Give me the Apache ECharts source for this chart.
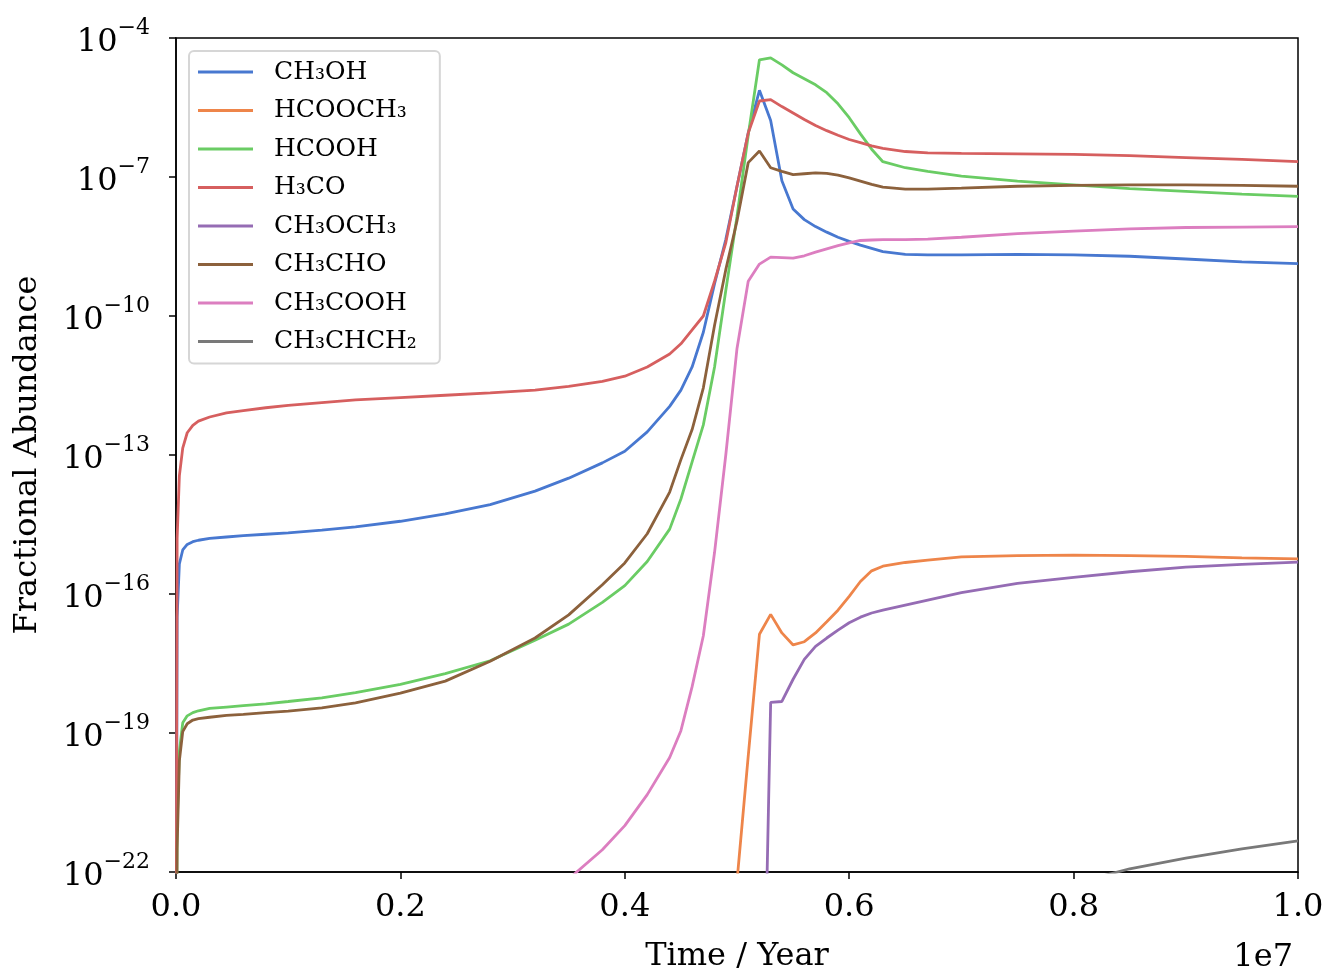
<!DOCTYPE html>
<html>
<head>
<meta charset="utf-8">
<script src="https://cdn.jsdelivr.net/npm/echarts@6/dist/echarts.min.js"></script>
<style>
  html, body { margin: 0; padding: 0; background: #fff; }
  #chart { width: 1332px; height: 978px; }
</style>
</head>
<body>
<div id="chart"></div>
<script>
// time grid (years)
const timeYears = [
  0, 1e4, 3e4, 6e4, 1e5, 1.5e5, 2e5, 3e5, 4.5e5, 6e5,
  8e5, 1e6, 1.3e6, 1.6e6, 2e6, 2.4e6, 2.8e6, 3.2e6, 3.5e6, 3.8e6,
  4e6, 4.2e6, 4.4e6, 4.5e6, 4.6e6, 4.7e6, 4.8e6, 4.9e6, 5e6, 5.1e6,
  5.2e6, 5.3e6, 5.4e6, 5.5e6, 5.6e6, 5.7e6, 5.8e6, 5.9e6, 6e6, 6.1e6,
  6.2e6, 6.3e6, 6.5e6, 6.7e6, 7e6, 7.5e6, 8e6, 8.5e6, 9e6, 9.5e6,
  1e7
]

// log10 of fractional abundance (null = not drawn)
const logCH3OH = [
  -26, -16.5, -15.35, -15.05, -14.93, -14.87, -14.84, -14.80, -14.77, -14.74,
  -14.71, -14.68, -14.62, -14.55, -14.43, -14.27, -14.07, -13.78, -13.5, -13.17,
  -12.92, -12.5, -11.95, -11.6, -11.1, -10.35, -9.3, -8.35, -7.2, -6.05,
  -5.13, -5.78, -7.08, -7.69, -7.92, -8.07, -8.19, -8.3, -8.39, -8.47,
  -8.54, -8.61, -8.67, -8.68, -8.68, -8.67, -8.68, -8.71, -8.77, -8.83,
  -8.87
]
const logHCOOCH3 = [
  null, null, null, null, null, null, null, null, null, null,
  null, null, null, null, null, null, null, null, null, null,
  null, null, null, null, null, null, null, null, -22.2, -19.5,
  -16.87, -16.44, -16.84, -17.10, -17.03, -16.84, -16.6, -16.35, -16.05, -15.73,
  -15.5, -15.4, -15.32, -15.27, -15.2, -15.17, -15.16, -15.17, -15.19, -15.22,
  -15.24
]
const logHCOOH = [
  -26, -21.0, -19.4, -18.78, -18.63, -18.56, -18.52, -18.47, -18.44, -18.41,
  -18.37, -18.32, -18.24, -18.13, -17.95, -17.72, -17.44, -17.0, -16.65, -16.18,
  -15.82, -15.3, -14.6, -13.95, -13.15, -12.35, -11.1, -9.45, -7.85, -6.1,
  -4.47, -4.43, -4.58, -4.75, -4.88, -5.01, -5.18, -5.42, -5.72, -6.07,
  -6.4, -6.67, -6.8, -6.88, -6.98, -7.09, -7.17, -7.25, -7.31, -7.37,
  -7.42
]
const logH3CO = [
  -26, -14.8, -13.45, -12.85, -12.52, -12.36, -12.27, -12.18, -12.09, -12.04,
  -11.98, -11.93, -11.87, -11.81, -11.76, -11.71, -11.66, -11.6, -11.52, -11.41,
  -11.3, -11.1, -10.82, -10.6, -10.3, -10.0, -9.25, -8.42, -7.2, -6.05,
  -5.36, -5.33, -5.48, -5.62, -5.76, -5.89, -6.0, -6.1, -6.19, -6.26,
  -6.33, -6.38, -6.45, -6.48, -6.49, -6.5, -6.51, -6.54, -6.58, -6.62,
  -6.67
]
const logCH3OCH3 = [
  null, null, null, null, null, null, null, null, null, null,
  null, null, null, null, null, null, null, null, null, null,
  null, null, null, null, null, null, null, null, null, null,
  -30, -18.34, -18.32, -17.84, -17.41, -17.13, -16.95, -16.78, -16.62, -16.5,
  -16.41, -16.35, -16.24, -16.13, -15.97, -15.77, -15.64, -15.52, -15.42, -15.36,
  -15.31
]
const logCH3CHO = [
  -26, -21.5, -19.6, -18.97, -18.8, -18.72, -18.69, -18.66, -18.62, -18.6,
  -18.56, -18.53, -18.46, -18.35, -18.14, -17.88, -17.45, -16.95, -16.45, -15.8,
  -15.33, -14.7, -13.8, -13.1, -12.45, -11.55, -10.2, -9.0, -7.95, -6.69,
  -6.44, -6.8, -6.88, -6.95, -6.93, -6.91, -6.92, -6.96, -7.02, -7.09,
  -7.16, -7.22, -7.26, -7.26, -7.24, -7.2, -7.18, -7.17, -7.17, -7.18,
  -7.2
]
const logCH3COOH = [
  null, null, null, null, null, null, null, null, null, null,
  null, null, null, null, null, null, null, -23.0, -22.15, -21.52,
  -21.0, -20.33, -19.53, -18.95, -18.0, -16.9, -15.1, -13.0, -10.7, -9.25,
  -8.88, -8.73, -8.74, -8.75, -8.70, -8.62, -8.55, -8.48, -8.42, -8.37,
  -8.36, -8.35, -8.35, -8.34, -8.3, -8.22, -8.17, -8.12, -8.09, -8.08,
  -8.07
]
const logCH3CHCH2 = [
  null, null, null, null, null, null, null, null, null, null,
  null, null, null, null, null, null, null, null, null, null,
  null, null, null, null, null, null, null, null, null, null,
  null, null, null, null, null, null, null, null, null, null,
  null, null, null, null, null, null, -22.25, -21.93, -21.7, -21.5,
  -21.33
]

const speciesNames = ['CH₃OH', 'HCOOCH₃', 'HCOOH', 'H₃CO', 'CH₃OCH₃', 'CH₃CHO', 'CH₃COOH', 'CH₃CHCH₂']
const speciesLogs = [logCH3OH, logHCOOCH3, logHCOOH, logH3CO, logCH3OCH3, logCH3CHO, logCH3COOH, logCH3CHCH2]
const colors = ['#4878d0', '#ee854a', '#6acc64', '#d65f5f', '#956cb4', '#8c613c', '#dc7ec0', '#797979']

const yTicks = [1e-22, 1e-19, 1e-16, 1e-13, 1e-10, 1e-7, 1e-4]
const xTicks = [0, 2e6, 4e6, 6e6, 8e6, 1e7]

const FONT = 'DejaVu Serif'

function toPairs(logs) {
  const out = []
  logs.forEach((v, i) => {
    if (v !== null) out.push([timeYears[i], Math.pow(10, v)])
  })
  return out
}

const chart = echarts.init(document.getElementById('chart'))

chart.setOption({
  backgroundColor: '#fff',
  animation: false,
  title: {
    text: '1e7',
    right: 34,
    top: 937,
    textStyle: { fontFamily: FONT, fontSize: 32, fontWeight: 'normal', color: '#000' },
  },
  legend: {
    orient: 'vertical',
    left: 189,
    top: 51,
    data: speciesNames,
    icon: 'rect',
    itemWidth: 55,
    itemHeight: 3,
    itemGap: 10.5,
    padding: [7, 23, 8, 9],
    borderColor: '#d6d6d6',
    borderWidth: 2,
    borderRadius: 5,
    backgroundColor: 'rgba(255,255,255,0.85)',
    textStyle: { fontFamily: FONT, fontSize: 25, color: '#000', lineHeight: 28, padding: [0, 0, 0, 16] },
  },
  grid: {
    left: 176,
    right: 34,
    top: 38,
    bottom: 103,
    show: true,
    borderColor: '#000',
    borderWidth: 1.5,
    backgroundColor: 'transparent',
  },
  xAxis: {
    type: 'value',
    min: 0,
    max: 1e7,
    interval: 2e6,
    name: 'Time / Year',
    nameLocation: 'middle',
    nameGap: 69,
    nameTextStyle: { fontFamily: FONT, fontSize: 32, color: '#000' },
    axisLine: { show: true, lineStyle: { color: '#000', width: 1.5 } },
    axisTick: { show: true, length: 7, lineStyle: { color: '#000', width: 1.5 }, customValues: xTicks },
    axisLabel: {
      fontFamily: FONT,
      fontSize: 32,
      color: '#000',
      margin: 20,
      customValues: xTicks,
      formatter: (v) => (v / 1e7).toFixed(1),
    },
    splitLine: { show: false },
  },
  yAxis: {
    type: 'log',
    logBase: 10,
    min: 1e-22,
    max: 1e-4,
    name: 'Fractional Abundance',
    nameLocation: 'middle',
    nameGap: 132,
    nameTextStyle: { fontFamily: FONT, fontSize: 32, color: '#000' },
    axisLine: { show: true, lineStyle: { color: '#000', width: 1.5 } },
    axisTick: { show: true, length: 7, lineStyle: { color: '#000', width: 1.5 }, customValues: yTicks },
    minorTick: { show: false },
    axisLabel: {
      margin: 26,
      customValues: yTicks,
      formatter: (v) => {
        const e = Math.round(Math.log10(v))
        return '{b|10}{e|\u2212' + Math.abs(e) + '}'
      },
      rich: {
        b: { fontFamily: FONT, fontSize: 32, color: '#000', verticalAlign: 'bottom' },
        e: { fontFamily: FONT, fontSize: 22, color: '#000', verticalAlign: 'bottom', padding: [0, 0, 20, 0] },
      },
    },
    splitLine: { show: false },
  },
  series: speciesNames.map((name, i) => ({
    name,
    type: 'line',
    data: toPairs(speciesLogs[i]),
    symbol: 'none',
    smooth: false,
    clip: true,
    lineStyle: { color: colors[i], width: 2.8 },
    itemStyle: { color: colors[i] },
  })),
})
</script>
</body>
</html>
